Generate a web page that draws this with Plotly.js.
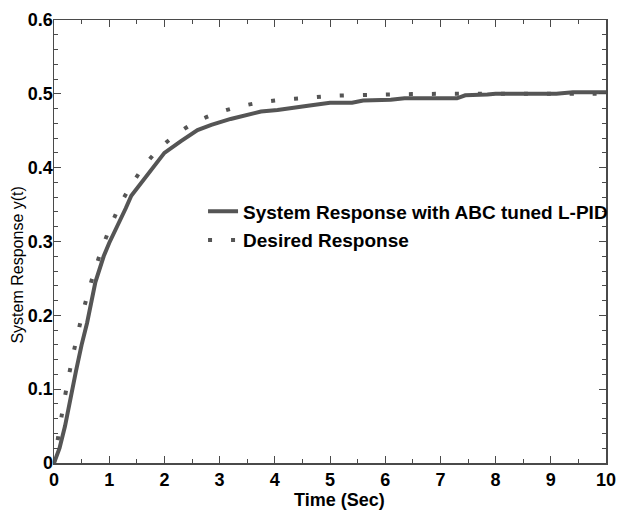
<!DOCTYPE html>
<html>
<head>
<meta charset="utf-8">
<script src="https://cdn.plot.ly/plotly-3.0.1.min.js"></script>
<style>html,body{margin:0;padding:0;background:#fff;}#chart{width:620px;height:516px;}</style>
</head>
<body>
<div id="chart"></div>
<script>
// System response with ABC tuned L-PID
var sysTime = [0, 0.1, 0.2, 0.3, 0.4, 0.5, 0.6, 0.75, 0.9, 1.0, 1.15, 1.3, 1.4, 1.6, 1.8, 2.0, 2.3, 2.6, 2.85, 3.2, 3.75, 4.05, 4.6, 5.0, 5.4, 5.6, 6.1, 6.35, 7.3, 7.45, 7.85, 8.0, 9.1, 9.4, 10];
var sysResp = [0, 0.02, 0.05, 0.09, 0.125, 0.16, 0.19, 0.245, 0.28, 0.298, 0.32, 0.345, 0.362, 0.382, 0.401, 0.42, 0.436, 0.451, 0.458, 0.466, 0.476, 0.478, 0.484, 0.488, 0.488, 0.491, 0.492, 0.494, 0.494, 0.498, 0.499, 0.5, 0.5, 0.502, 0.502];
// Desired response
var desTime = [0, 0.25, 0.5, 0.75, 1, 1.25, 1.5, 1.75, 2, 2.5, 3, 3.5, 4, 4.5, 5, 6, 7, 8, 9, 10];
var desResp = [0, 0.111, 0.197, 0.264, 0.316, 0.357, 0.388, 0.413, 0.432, 0.459, 0.475, 0.485, 0.491, 0.494, 0.497, 0.499, 0.5, 0.5, 0.5, 0.5];
var xTicks = [0, 1, 2, 3, 4, 5, 6, 7, 8, 9, 10];
var yTicks = [0, 0.1, 0.2, 0.3, 0.4, 0.5, 0.6];
var yTickText = ['0', '0.1', '0.2', '0.3', '0.4', '0.5', '0.6'];
var seriesNames = ['System Response with ABC tuned L-PID', 'Desired Response'];
var xTitle = 'Time (Sec)';
var yTitle = 'System Response y(t)';

var FONT = 'Liberation Sans, Arial, Helvetica, sans-serif';
var grey = 'rgb(85,85,85)';
var axisCol = '#4a4a4a';

var traces = [
  {x: desTime, y: desResp, mode: 'lines', name: seriesNames[1], legend: 'legend2',
   line: {color: grey, width: 4, dash: '4px,19px', shape: 'spline'}},
  {x: sysTime, y: sysResp, mode: 'lines', name: seriesNames[0], legend: 'legend',
   line: {color: grey, width: 4}}
];

var axisCommon = {
  showgrid: false, zeroline: false, showline: true, linecolor: axisCol, linewidth: 1.5,
  mirror: 'ticks', ticks: 'inside', ticklen: 7, tickwidth: 1, tickcolor: axisCol,
  tickfont: {family: FONT, size: 18, color: '#000', weight: 'bold'}
};

var legendFont = {family: FONT, size: 19, color: '#000', weight: 'bold'};

var layout = {
  width: 620, height: 516,
  margin: {l: 53.5, r: 14, t: 20, b: 53, autoexpand: false},
  paper_bgcolor: '#fff', plot_bgcolor: '#fff',
  showlegend: true,
  xaxis: Object.assign({}, axisCommon, {
    range: [0, 10], tickvals: xTicks, ticktext: xTicks.map(String),
    minor: {dtick: 0.5, ticks: 'inside', ticklen: 4, tickcolor: axisCol, tickwidth: 1}
  }),
  yaxis: Object.assign({}, axisCommon, {
    range: [0, 0.6], tickvals: yTicks, ticktext: yTickText, ticklabelstandoff: -4,
    minor: {dtick: 0.02, ticks: 'inside', ticklen: 4, tickcolor: axisCol, tickwidth: 1}
  }),
  legend: {x: 0.27, y: 0.611, xanchor: 'left', yanchor: 'top', bgcolor: 'rgba(0,0,0,0)', borderwidth: 0, font: legendFont},
  legend2: {x: 0.27, y: 0.546, xanchor: 'left', yanchor: 'top', bgcolor: 'rgba(0,0,0,0)', borderwidth: 0, font: legendFont},
  annotations: [{
    text: yTitle, xref: 'paper', yref: 'paper', x: -0.066, y: 0.447,
    xanchor: 'center', yanchor: 'middle', textangle: -90, showarrow: false,
    font: {family: FONT, size: 16, color: '#000'}
  }, {
    text: xTitle, xref: 'paper', yref: 'paper', x: 0.518, y: -0.0835,
    xanchor: 'center', yanchor: 'middle', showarrow: false,
    font: {family: FONT, size: 18, color: '#000', weight: 'bold'}
  }]
};

Plotly.newPlot('chart', traces, layout, {displayModeBar: false, staticPlot: true});
</script>
</body>
</html>
